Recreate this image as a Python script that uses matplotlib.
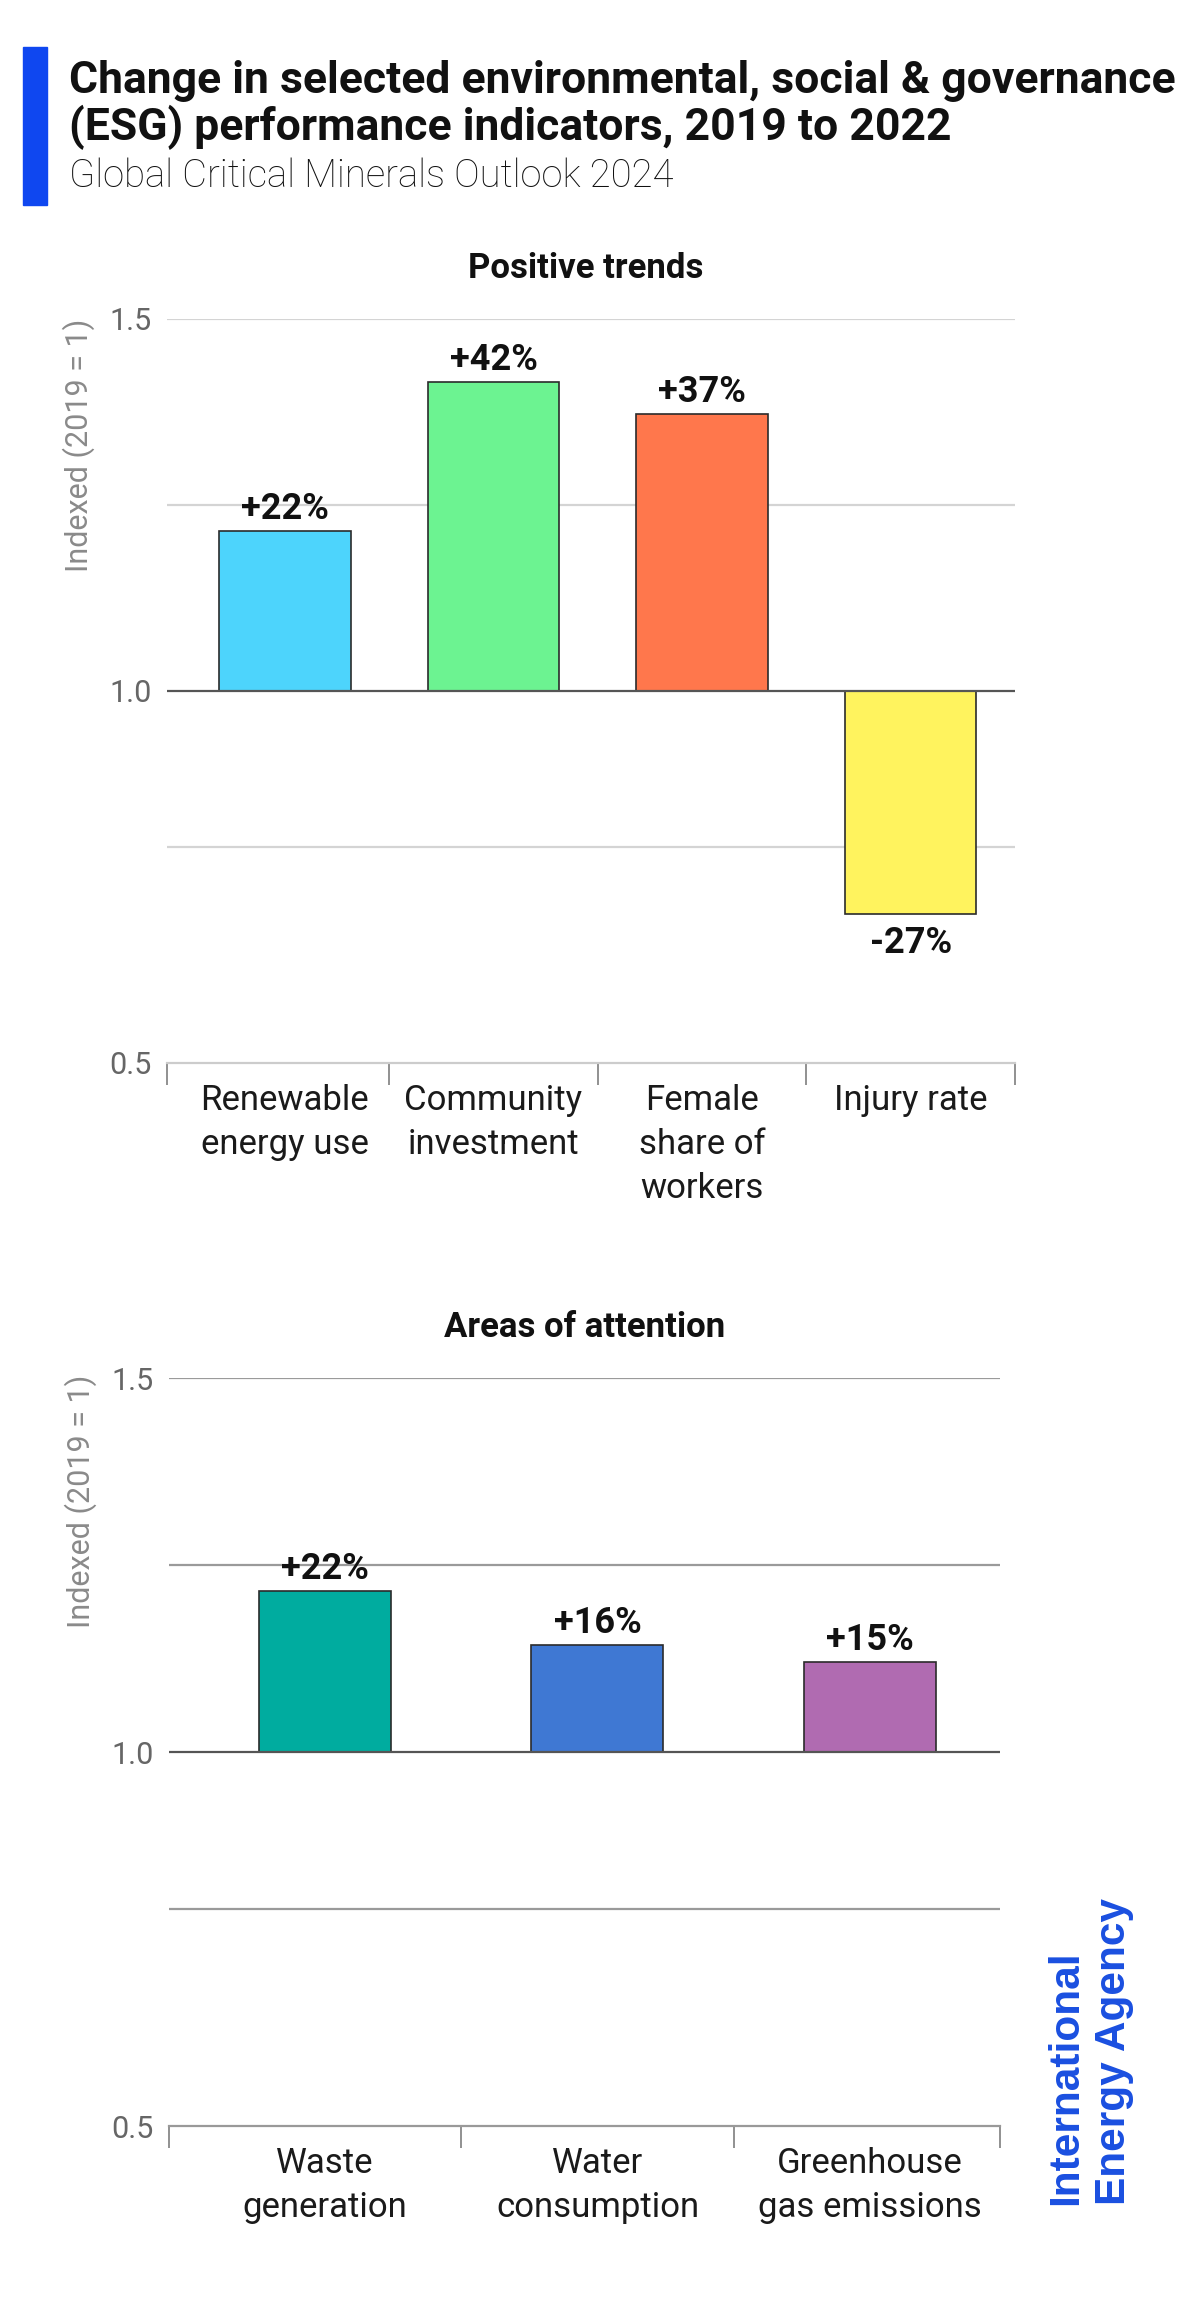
import matplotlib.pyplot as plt
from matplotlib.patches import Rectangle

plt.rcParams['font.family'] = ['Roboto', 'DejaVu Sans']

# data
top_cats = ['Renewable\nenergy use', 'Community\ninvestment', 'Female\nshare of\nworkers', 'Injury rate']
top_vals = [1.215, 1.415, 1.372, 0.70]
top_labels = ['+22%', '+42%', '+37%', '-27%']
top_colors = ['#4dd4fc', '#6cf391', '#ff774c', '#fff35e']

bot_cats = ['Waste\ngeneration', 'Water\nconsumption', 'Greenhouse\ngas emissions']
bot_vals = [1.215, 1.143, 1.120]
bot_labels = ['+22%', '+16%', '+15%']
bot_colors = ['#00ac9f', '#3f78d3', '#b06bb1']

y_ticks = [0.5, 1.0, 1.5]
y_ticklabels = ['0.5', '1.0', '1.5']
grid_vals = [1.5, 1.25, 0.79]

W, H = 1200, 2309
fig = plt.figure(figsize=(W / 100, H / 100), dpi=100)


def box(l, t, r, b):
    # pixel box -> figure fraction rect
    return [l / W, 1 - b / H, (r - l) / W, (b - t) / H]


def fx(px):
    return px / W


def fy(py):
    return 1 - py / H


def panel(rect, cats, vals, labels, colors, width, xlim, grid_color, base_color):
    ax = fig.add_axes(rect)
    x = list(range(len(cats)))
    ax.bar(x, [v - 1 for v in vals], bottom=1, width=width, color=colors,
           edgecolor='#2b2b2b', linewidth=1.2, zorder=2)
    for g in grid_vals:
        ax.axhline(g, color=grid_color, lw=1.6, zorder=0)
    ax.axhline(1.0, color='#555555', lw=1.6, zorder=3)

    for i, (v, lab) in enumerate(zip(vals, labels)):
        if v >= 1:
            ax.text(i, v + 0.016, lab, ha='center', va='baseline',
                    fontsize=26, fontweight='bold', color='#111111')
        else:
            ax.text(i, v - 0.015, lab, ha='center', va='top',
                    fontsize=26, fontweight='bold', color='#111111')

    ax.set_xlim(xlim)
    ax.set_ylim(0.5, 1.5)
    for s in ['top', 'right', 'left']:
        ax.spines[s].set_visible(False)
    ax.spines['bottom'].set_color(base_color)
    ax.spines['bottom'].set_linewidth(1.6)

    ax.set_yticks(y_ticks)
    ax.set_yticklabels(y_ticklabels)
    ax.tick_params(axis='y', length=0, pad=11, labelsize=22, labelcolor='#666666')

    ax.set_xticks(x)
    ax.set_xticklabels(cats, fontsize=25, color='#1a1a1a')
    for lbl in ax.get_xticklabels():
        lbl.set_linespacing(1.43)
    ax.tick_params(axis='x', which='major', length=0, pad=15)
    ax.set_xticks([xlim[0]] + [i + 0.5 for i in x[:-1]] + [xlim[1]], minor=True)
    ax.tick_params(axis='x', which='minor', length=16, width=1.3, color='#888888',
                   direction='out')
    return ax


# title block
fig.patches.append(Rectangle((fx(23), fy(205)), (47 - 23) / W, (205 - 47) / H,
                             transform=fig.transFigure, color='#0f47f0'))
fig.text(fx(69), fy(93), 'Change in selected environmental, social & governance',
         fontsize=32, fontweight='bold', color='#111111', va='baseline')
fig.text(fx(69), fy(140), '(ESG) performance indicators, 2019 to 2022',
         fontsize=32, fontweight='bold', color='#111111', va='baseline')
fig.text(fx(69), fy(187), 'Global Critical Minerals Outlook 2024',
         fontsize=27.5, fontweight='light', color='#111111', va='baseline')

# top panel
panel(box(167, 319, 1015, 1063), top_cats, top_vals, top_labels, top_colors,
      0.63, (-0.565, 3.5), '#d4d4d4', '#cccccc')
fig.text(fx(586), fy(278), 'Positive trends', ha='center', va='baseline',
         fontsize=25, fontweight='bold', color='#111111')
fig.text(fx(79), fy(445), 'Indexed (2019 = 1)', rotation=90, ha='center', va='center',
         fontsize=22, color='#8a8a8a')

# bottom panel
panel(box(169, 1378, 1000, 2126), bot_cats, bot_vals, bot_labels, bot_colors,
      0.484, (-0.572, 2.477), '#9a9a9a', '#999999')
fig.text(fx(585), fy(1337), 'Areas of attention', ha='center', va='baseline',
         fontsize=25, fontweight='bold', color='#111111')
fig.text(fx(81), fy(1501), 'Indexed (2019 = 1)', rotation=90, ha='center', va='center',
         fontsize=22, color='#8a8a8a')

# IEA logo
fig.text(fx(1046), fy(2205), 'International', rotation=90, ha='left', va='bottom',
         fontsize=30.5, fontweight='bold', color='#1a4fe0', family='Liberation Sans')
fig.text(fx(1094), fy(2205), 'Energy Agency', rotation=90, ha='left', va='bottom',
         fontsize=30.5, fontweight='bold', color='#1a4fe0', family='Liberation Sans')

fig.savefig('out.png', dpi=100, facecolor='white')
